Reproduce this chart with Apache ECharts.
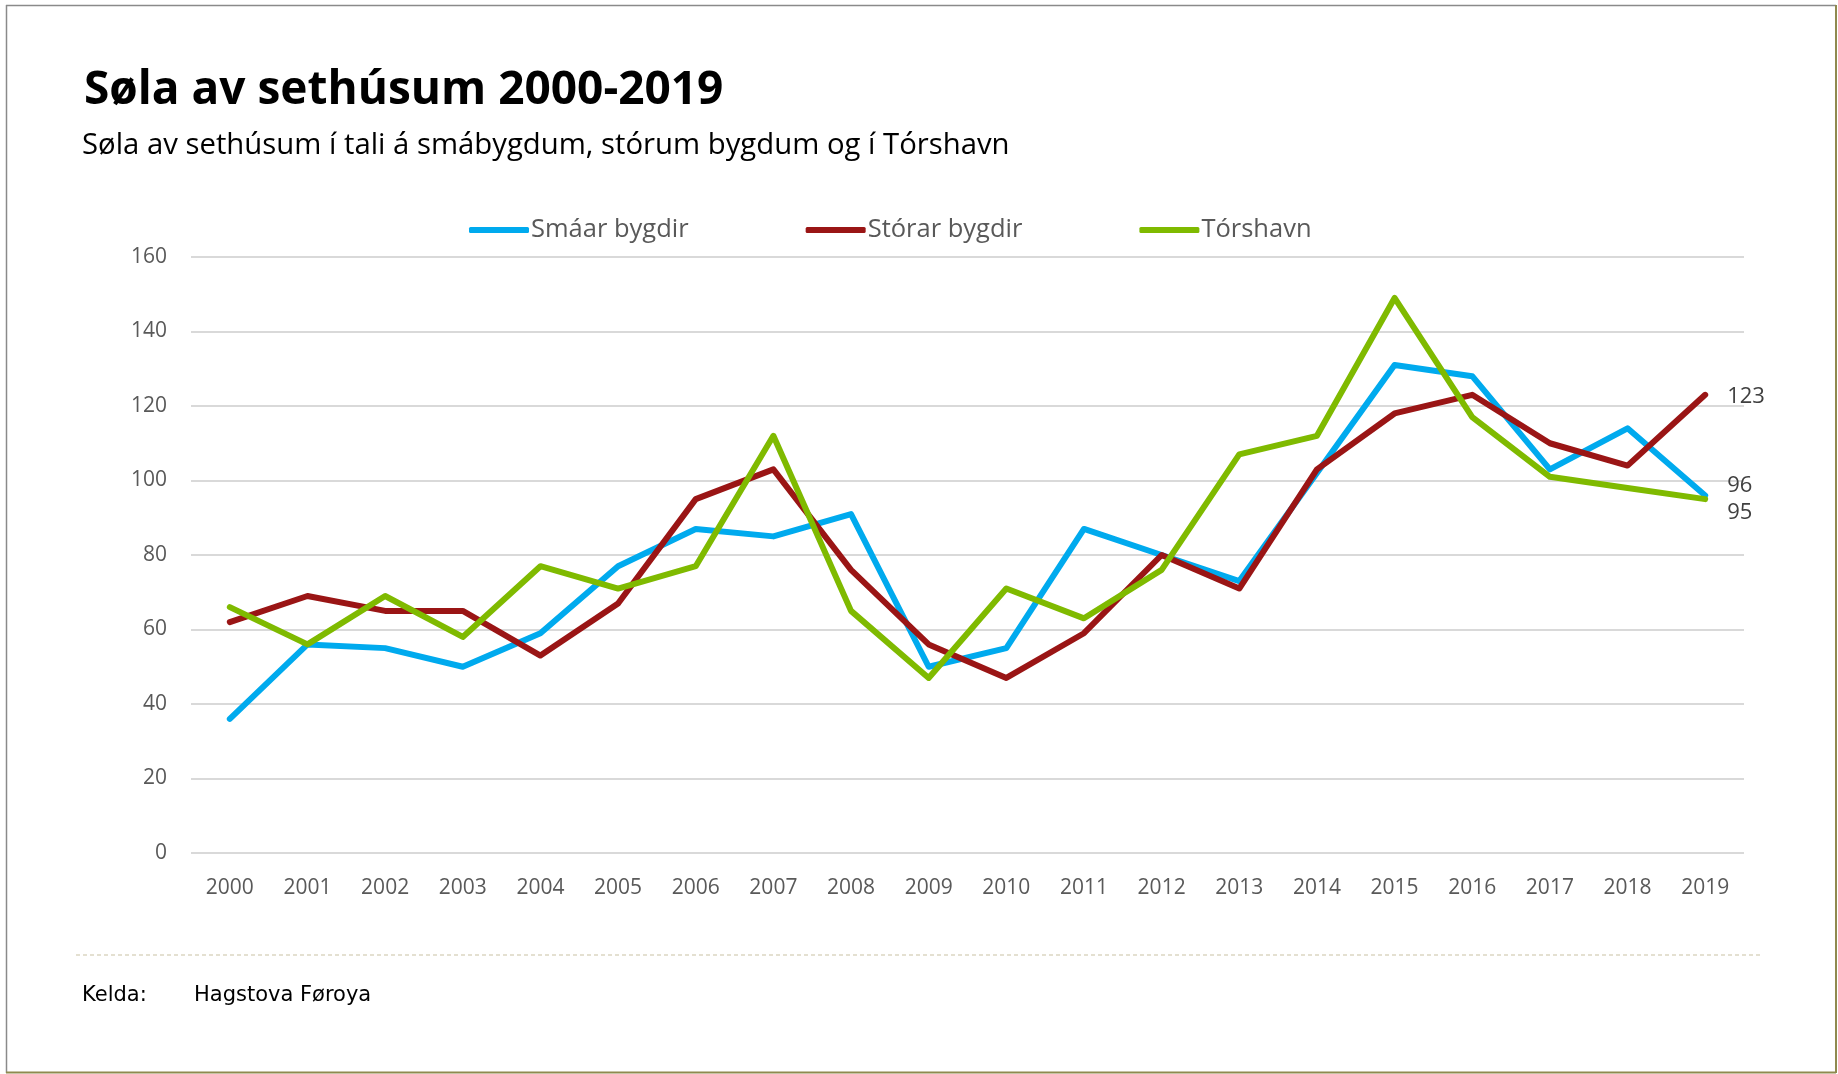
<!DOCTYPE html>
<html>
<head>
<meta charset="utf-8">
<script src="https://cdn.jsdelivr.net/npm/echarts@6/dist/echarts.min.js"></script>
<style>
html,body{margin:0;padding:0;background:#fff;}
#chart{width:1838px;height:1074px;}
</style>
</head>
<body>
<div id="chart"></div>
<script>
const years = ['2000','2001','2002','2003','2004','2005','2006','2007','2008','2009','2010','2011','2012','2013','2014','2015','2016','2017','2018','2019'];
const smaarBygdir = [36,56,55,50,59,77,87,85,91,50,55,87,80,73,102,131,128,103,114,96];
const storarBygdir = [62,69,65,65,53,67,95,103,76,56,47,59,80,71,103,118,123,110,104,123];
const torshavn = [66,56,69,58,77,71,77,112,65,47,71,63,76,107,112,149,117,101,98,95];
const seriesNames = ['Smáar bygdir','Stórar bygdir','Tórshavn'];
const yTicks = [0,20,40,60,80,100,120,140,160];

const chart = echarts.init(document.getElementById('chart'));
const labelFont = 'Open Sans';
function mk(name, data, color, off){
  return {
    name: name, type: 'line', data: data, symbol: 'none',
    lineStyle: {color: color, width: 6, cap: 'round', join: 'round'},
    itemStyle: {color: color},
    endLabel: {show: true, formatter: '{c}', distance: 22, offset: off,
      color: '#404040', fontFamily: labelFont, fontSize: 22},
    z: 3
  };
}
chart.setOption({
  animation: false,
  backgroundColor: '#fff',
  title: [
    {text: 'Søla av sethúsum 2000-2019', left: 79, top: 63,
     textStyle: {fontFamily: 'Open Sans', fontWeight: 'bold', fontSize: 46, color: '#000'}},
    {text: 'Søla av sethúsum í tali á smábygdum, stórum bygdum og í Tórshavn', left: 77, top: 126,
     textStyle: {fontFamily: 'Open Sans', fontWeight: 'normal', fontSize: 29.3, color: '#000'}}
  ],
  legend: {
    data: seriesNames, top: 212, left: 464, itemWidth: 60, itemHeight: 6, itemGap: 117,
    icon: 'roundRect',
    textStyle: {fontFamily: labelFont, fontSize: 25.5, color: '#595959', padding: [0,0,0,-3]}
  },
  grid: {left: 191, right: 94, top: 257, bottom: 221, containLabel: false},
  xAxis: {
    type: 'category', data: years, boundaryGap: true,
    axisLine: {show: false}, axisTick: {show: false},
    axisLabel: {color: '#595959', fontFamily: labelFont, fontSize: 21, margin: 25}
  },
  yAxis: {
    type: 'value', min: 0, max: 160, interval: 20,
    axisLine: {show: false}, axisTick: {show: false},
    axisLabel: {color: '#595959', fontFamily: labelFont, fontSize: 21, margin: 24},
    splitLine: {lineStyle: {color: '#d9d9d9', width: 2}}
  },
  series: [
    mk(seriesNames[0], smaarBygdir, '#00AAEE', [0,-10]),
    mk(seriesNames[1], storarBygdir, '#9A1515', [0,2]),
    mk(seriesNames[2], torshavn, '#7FBA00', [0,14])
  ],
  graphic: [
    {type: 'line', shape: {x1: 6, y1: 5.5, x2: 1836, y2: 5.5}, style: {stroke: '#8a8a8a', lineWidth: 1.5}},
    {type: 'line', shape: {x1: 6.5, y1: 5, x2: 6.5, y2: 1073}, style: {stroke: '#8a8a8a', lineWidth: 1.5}},
    {type: 'line', shape: {x1: 1836, y1: 5, x2: 1836, y2: 1073}, style: {stroke: '#8f8a4f', lineWidth: 2}},
    {type: 'line', shape: {x1: 6, y1: 1072.5, x2: 1836, y2: 1072.5}, style: {stroke: '#8f8a4f', lineWidth: 2}},
    {type: 'line', shape: {x1: 76, y1: 955, x2: 1762, y2: 955}, style: {stroke: '#c9c1a3', lineWidth: 1, lineDash: [4,3]}},
    {type: 'text', left: 82, top: 985, style: {text: 'Kelda:', fontFamily: 'DejaVu Sans', fontSize: 21, fill: '#000'}},
    {type: 'text', left: 194, top: 985, style: {text: 'Hagstova Føroya', fontFamily: 'DejaVu Sans', fontSize: 21, fill: '#000'}}
  ]
});
</script>
</body>
</html>
